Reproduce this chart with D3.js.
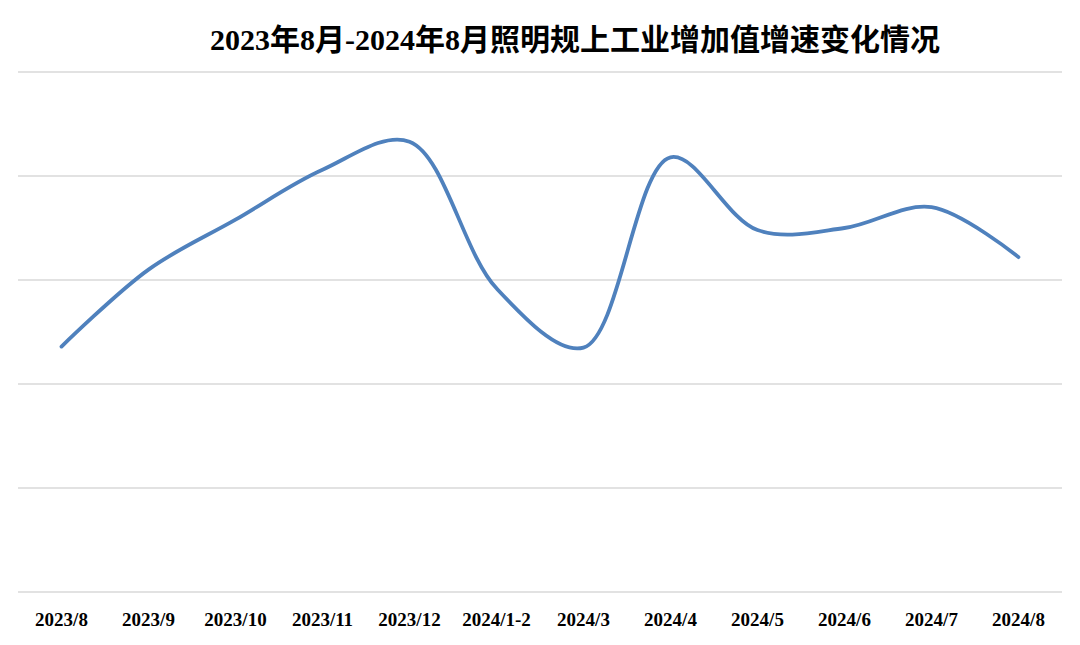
<!DOCTYPE html>
<html><head><meta charset="utf-8">
<script src="https://cdn.jsdelivr.net/npm/d3@7"></script>
<style>body{margin:0;background:#fff}</style>
</head><body>
<svg id="c" width="1080" height="645"></svg>
<script>
const title = "2023年8月-2024年8月照明规上工业增加值增速变化情况";
const categories = ["2023/8","2023/9","2023/10","2023/11","2023/12","2024/1-2","2024/3","2024/4","2024/5","2024/6","2024/7","2024/8"];
const values = [2.36, 3.10, 3.58, 4.06, 4.33, 2.92, 2.35, 4.18, 3.48, 3.50, 3.70, 3.22];
const gridTicks = [0, 1, 2, 3, 4, 5];

(function(){
const svg = d3.select("#c");
const mL = 18, mR = 1062, mT = 72, mB = 592;
const x = d3.scaleBand().domain(categories).range([mL, mR]);
const y = d3.scaleLinear().domain([0, 5]).range([mB, mT]);

svg.append("g").selectAll("line").data(gridTicks).join("line")
  .attr("x1", mL).attr("x2", mR)
  .attr("y1", d => y(d)).attr("y2", d => y(d))
  .attr("stroke", "#d9d9d9").attr("stroke-width", 1.5);

const xAxis = svg.append("g").attr("transform", `translate(0,${mB})`)
  .call(d3.axisBottom(x).tickSize(0).tickPadding(21));
xAxis.select(".domain").remove();
xAxis.selectAll("text")
  .attr("font-family", "'Liberation Serif', 'Times New Roman', serif")
  .attr("font-weight", "bold").attr("font-size", 19).attr("fill", "#000");

const line = d3.line()
  .x((d, i) => x(categories[i]) + x.bandwidth() / 2)
  .y(d => y(d))
  .curve(d3.curveCatmullRom.alpha(0.5));
svg.append("path").datum(values)
  .attr("d", line).attr("fill", "none")
  .attr("stroke", "#4f81bd").attr("stroke-width", 3.8)
  .attr("stroke-linecap", "round");

svg.append("text").attr("x", 575).attr("y", 50)
  .attr("text-anchor", "middle")
  .attr("font-family", "'Liberation Serif', 'Noto Sans CJK SC', serif")
  .attr("font-weight", "bold").attr("font-size", 30).attr("fill", "#000")
  .text(title);
})();
</script>
</body></html>
